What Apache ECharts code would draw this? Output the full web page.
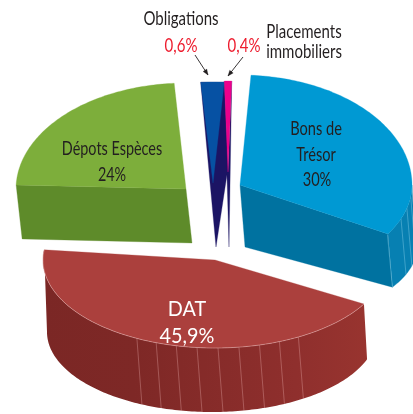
<!DOCTYPE html>
<html><head><meta charset="utf-8">
<style>html,body{margin:0;padding:0;background:#fff}#c{width:413px;height:414px}</style>
<script src="https://cdn.jsdelivr.net/npm/echarts@6/dist/echarts.min.js"></script>
</head><body><div id="c"></div>
<script>
// ---- data ----
const names  = ['Bons de\nTrésor', 'DAT', 'Dépots Espèces', 'Obligations', 'Placements\nimmobiliers'];
const values = [30, 45.9, 24, 0.6, 0.4];

// ---- drawing layout (exploded pseudo-3D pie; each slice has its own ellipse) ----
const FONT = 'Lato,"Liberation Sans",sans-serif';
const geometry = [
 {c:[240,185], rx:172, ryB:110, ryF:96, start:3.66, stretch:1.083,
  bot:{c:[245,247], rx:172, ry:78, from:121, to:80}, wall:'end', hatch:[121,110.6,104,97],
  top:'#0099d3', side:'#0072a0', arc:'#0780b2', hatchCol:'rgba(150,215,240,.55)',
  name:[316,142], pct:[317,180], nameCol:'#231f20', pctCol:'#231f20', nameLH:26, sx:.73, fs:20},
 {c:[215,260], rx:172, ryB:88, ryF:88, start:120, stretch:.948,
  bot:{c:[212,332], rx:165, ry:80, from:110, to:270}, wall:'arc', hatch:[151,158,165,172,179,186,193,200,207],
  top:'#ab403d', side:'#7e2826', arc:['#7b2725','#7e2826','#8f2f2d','#98342f'], hatchCol:'rgba(255,205,205,.42)', rim:'rgba(255,225,225,.6)',
  name:[187,309], pct:[187,336], nameCol:'#fff', pctCol:'#fff', nameLH:26, sx:.9, fs:22},
 {c:[186,189], rx:170, ryB:106, ryF:106, start:272.2, stretch:.97,
  bot:{c:[192,243], rx:170, ry:106}, wall:'start',
  top:'#7dae3b', side:'#5e8b2a',
  name:[112,149], pct:[112,175], nameCol:'#231f20', pctCol:'#231f20', nameLH:26, sx:.72, fs:20},
 {c:[213,183], rx:172, ryB:101, ryF:101, start:355.9, stretch:3.64,
  tip:[216,247], kink:[228,168], wall:'wedge',
  top:'#0651a3', side:'#1b1464',
  name:[181,19], pct:[181,46], nameCol:'#231f20', pctCol:'#ed1c2e', nameLH:20, sx:.75, fs:20,
  arrow:[[195,55],[208,75]]},
 {c:[228,172], rx:172, ryB:91, ryF:91, start:358.77, stretch:1.71,
  tip:[229,247], wall:'wedge',
  top:'#ec008c', side:'#1b1464',
  name:[304,42], pct:[244,46], nameCol:'#231f20', pctCol:'#ed1c2e', nameLH:20, sx:.75, fs:20,
  arrow:[[243,57],[228,76]]}
];
const rad = d => d*Math.PI/180;
function pt(g,deg){
  const s=Math.sin(rad(deg)), c=Math.cos(rad(deg));
  return [g.c[0]+g.rx*s, g.c[1]-(c>0?g.ryB:g.ryF)*c];
}
function botPt(b,deg){
  const s=Math.sin(rad(deg)), c=Math.cos(rad(deg));
  return [b.c[0]+b.rx*s, b.c[1]-b.ry*c];
}
function arc(fn,g,a,b){
  const n=Math.max(2,Math.ceil(Math.abs(b-a))), out=[];
  for(let i=0;i<=n;i++) out.push(fn(g,a+(b-a)*i/n));
  return out;
}
const poly=(points,fill,z)=>({type:'polygon',z2:z||0,shape:{points},style:{fill,stroke:fill,lineWidth:.3}});
const seg=(a,b,stroke,w)=>({type:'line',shape:{x1:a[0],y1:a[1],x2:b[0],y2:b[1]},style:{stroke,lineWidth:w||.7}});
const txt=(t,p,fill,g)=>({type:'text',z2:9,x:p[0],y:p[1],scaleX:g.sx,
  style:{text:t,x:0,y:0,fill,font:g.fs+'px '+FONT,align:'center',verticalAlign:'middle',lineHeight:g.nameLH}});

function renderSlice(params,api){
  const i=params.dataIndex, g=geometry[i], v=api.value(0);
  const sweep=v*3.6*g.stretch, a0=g.start, a1=a0+sweep;
  const top=arc(pt,g,a0,a1), els=[];
  if(g.wall==='wedge'){
    const L=top[0], R=top[top.length-1];
    els.push(poly(g.kink?[L,g.tip,g.kink,R]:[L,g.tip,R,g.c],g.side));
  }else{
    const b=g.bot;
    const bc=b.c;
    if(g.wall==='end'){
      const cTop=pt(g,a1), cBot=botPt(b,b.from);
      els.push(poly([g.c,cTop,cBot,bc],g.side));
      const to=b.to;
      els.push(poly([...arc(pt,g,a1,90),...arc(botPt,b,to,b.from)],g.arc));
    }else if(g.wall==='start'){
      const cTop=pt(g,a0);
      els.push(poly([g.c,cTop,[cTop[0]+bc[0]-g.c[0],cTop[1]+bc[1]-g.c[1]],bc],g.side));
    }else{
      els.push({type:'polygon',shape:{points:[...arc(pt,g,a0,a1),...arc(botPt,b,b.to,b.from)]},
        style:{fill:new echarts.graphic.LinearGradient(0,0,1,0,[
          {offset:0,color:g.arc[0]},{offset:.28,color:g.arc[1]},{offset:.78,color:g.arc[2]},{offset:1,color:g.arc[3]}])}});
    }
    (g.hatch||[]).forEach(d=>{
      const p=pt(g,d), x=p[0]+5, k=Math.min(1,Math.abs(x-bc[0])/b.rx);
      const y=bc[1]+b.ry*Math.sqrt(1-k*k);
      els.push(seg(p,[x,y],g.hatchCol,.7));
    });
  }
  els.push(poly([g.c,...top],g.top,2));
  if(g.rim) els.push({type:'polyline',z2:3,shape:{points:top},style:{fill:null,stroke:g.rim,lineWidth:.6}});
  if(g.arrow){
    const [p,q]=g.arrow, an=Math.atan2(q[1]-p[1],q[0]-p[0]), h=6, w=.38;
    els.push(seg(p,q,'#231f20',.9));
    els.push(poly([q,[q[0]-h*Math.cos(an-w),q[1]-h*Math.sin(an-w)],[q[0]-h*Math.cos(an+w),q[1]-h*Math.sin(an+w)]],'#231f20',4));
  }
  els.push(txt(names[i],g.name,g.nameCol,g));
  els.push(txt(String(v).replace('.',',')+'%',g.pct,g.pctCol,g));
  return {type:'group',children:els};
}
const chart=echarts.init(document.getElementById('c'),null,{renderer:'canvas'});
chart.setOption({
  animation:false, backgroundColor:'#fff',
  series:[{type:'custom',coordinateSystem:'none',renderItem:renderSlice,
    data:values.map((v,i)=>({name:names[i],value:[v]}))}]
});
</script></body></html>
